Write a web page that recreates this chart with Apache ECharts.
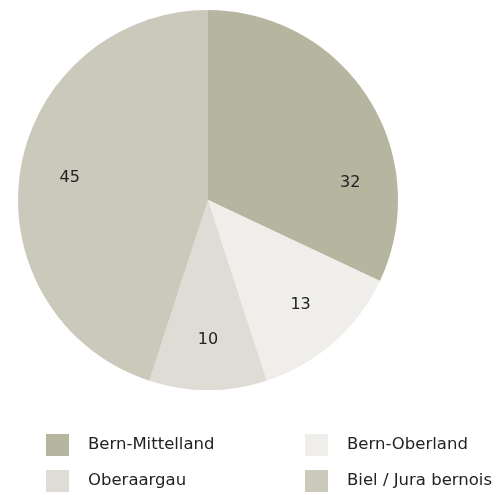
<!DOCTYPE html>
<html><head><meta charset="utf-8">
<script src="https://cdn.jsdelivr.net/npm/echarts@6/dist/echarts.min.js"></script>
<style>html,body{margin:0;padding:0;background:#fff}#c{width:502px;height:495px}</style>
</head><body><div id="c"></div>
<script>
const categories = ['Bern-Mittelland', 'Bern-Oberland', 'Oberaargau', 'Biel / Jura bernois'];
const values = [32, 13, 10, 45];
const colors = ['#b5b5a0', '#efeeea', '#dedcd4', '#cbc9bc'];

const data = categories.map((n, i) => ({ name: n, value: values[i], itemStyle: { color: colors[i] } }));
const font = '"DejaVu Sans", sans-serif';
const chart = echarts.init(document.getElementById('c'));
const legendPos = [[46, 434], [305, 434], [46, 470], [305, 470]];
const legends = categories.map((n, i) => ({
  left: legendPos[i][0], top: legendPos[i][1], padding: 0,
  itemWidth: 23, itemHeight: 22, icon: 'rect', selectedMode: false,
  data: [n],
  textStyle: { fontFamily: font, fontSize: 16.5, color: '#222', padding: [0, 0, 0, 14] }
}));
chart.setOption({
  animation: false,
  legend: legends,
  series: [
    {
      type: 'pie', center: [208, 200], radius: 190, startAngle: 90, clockwise: true,
      data: data, label: { show: false }, labelLine: { show: false },
      emphasis: { disabled: true }, silent: true
    },
    {
      type: 'pie', center: [208, 200], radius: [84, 190], startAngle: 90, clockwise: true,
      data: categories.map((n, i) => ({ name: n, value: values[i] })),
      itemStyle: { color: 'rgba(0,0,0,0)' },
      label: { show: true, position: 'inside', formatter: '{c}', fontFamily: font, fontSize: 16, color: '#222' },
      labelLayout: function (p) { return p.dataIndex === 0 ? { dx: 24, dy: 58 } : {}; },
      labelLine: { show: false }, emphasis: { disabled: true }, silent: true
    }
  ]
});
</script></body></html>
